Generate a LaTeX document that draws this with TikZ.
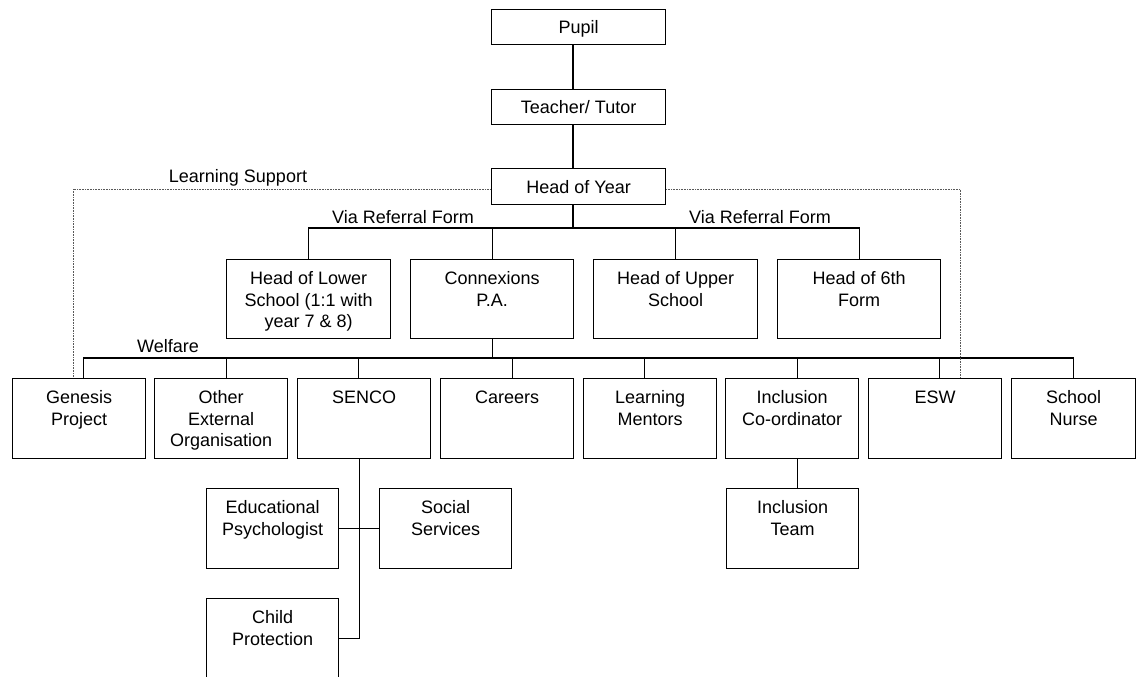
\documentclass[tikz,border=0pt]{standalone}
\usepackage{fontspec}
\setmainfont{Liberation Sans}
% box text: width, height, first-baseline offset, content (top aligned, centred)
\newcommand\celltext[4]{\parbox[t][#2pt][t]{#1pt}{\centering\rule{0pt}{#3pt}#4\par}}
\begin{document}
\begin{tikzpicture}[x=1pt,y=-1pt,
  every node/.style={font=\fontsize{18}{21.6}\selectfont},
  cell/.style={draw, line width=1.2pt, inner sep=0pt, anchor=north west},
  link/.style={line width=1.2pt},
  dotline/.style={line width=0.8pt, gray!70!black, dash pattern=on 0.8pt off 0.8pt},
  lbl/.style={anchor=base, inner sep=0pt}]
\useasboundingbox (0,0) rectangle (1136,677);
\clip (0,0) rectangle (1136,677);

% top chain
\node[cell] (pupil)   at (491,9)   {\celltext{174}{35}{24}{Pupil}};
\node[cell] (teacher) at (491,89)  {\celltext{174}{35}{24}{Teacher/ Tutor}};
\node[cell] (hoy)     at (491,168) {\celltext{174}{36}{25}{Head of Year}};

% second row
\node[cell] (hls) at (226,259) {\celltext{164}{79}{25}{Head of Lower\\School (1:1 with\\year 7 \& 8)}};
\node[cell] (cx)  at (410,259) {\celltext{163}{79}{25}{Connexions\\P.A.}};
\node[cell] (hus) at (593,259) {\celltext{164}{79}{25}{Head of Upper\\School}};
\node[cell] (h6)  at (777,259) {\celltext{163}{79}{25}{Head of 6th\\Form}};

% third row
\node[cell] (gen)   at (12,378)   {\celltext{133}{80}{25}{Genesis\\Project}};
\node[cell] (oth)   at (154,378)  {\celltext{133}{80}{25}{Other\\External\\Organisation}};
\node[cell] (senco) at (297,378)  {\celltext{133}{80}{25}{SENCO}};
\node[cell] (car)   at (440,378)  {\celltext{133}{80}{25}{Careers}};
\node[cell] (lm)    at (583,378)  {\celltext{133}{80}{25}{Learning\\Mentors}};
\node[cell] (inc)   at (725,378)  {\celltext{133}{80}{25}{Inclusion\\Co-ordinator}};
\node[cell] (esw)   at (868,378)  {\celltext{133}{80}{25}{ESW}};
\node[cell] (nurse) at (1011,378) {\celltext{124}{80}{25}{School\\Nurse}};

% lower boxes
\node[cell] (ep) at (206,488) {\celltext{132}{80}{25}{Educational\\Psychologist}};
\node[cell] (ss) at (379,488) {\celltext{132}{80}{25}{Social\\Services}};
\node[cell] (cp) at (206,598) {\celltext{132}{80}{25}{Child\\Protection}};
\node[cell] (it) at (726,488) {\celltext{132}{80}{25}{Inclusion\\Team}};

% labels
\node[lbl] (lsup) at (238,182) {Learning Support};
\node[lbl] (via1) at (403,223) {Via Referral Form};
\node[lbl] (via2) at (760,223) {Via Referral Form};
\node[lbl] (welf) at (168,352) {Welfare};

% connectors
\coordinate (bustop) at (573,228);
\coordinate (wbus) at (491,358);
\draw[link] (bustop |- pupil.south) -- (bustop |- teacher.north);
\draw[link] (bustop |- teacher.south) -- (bustop |- hoy.north);
\draw[link] (bustop |- hoy.south) -- (bustop);
\draw[link] (hls.north) |- (bustop) -| (h6.north);
\draw[link] (cx.north) -- (cx.north |- bustop);
\draw[link] (hus.north) -- (hus.north |- bustop);

\draw[link] (cx.south) -- (cx.south |- wbus);
\draw[link] ([xshift=4.5pt]gen.north) |- (wbus) -| (nurse.north);
\foreach \n/\s in {oth/5.5, senco/-5.5, car/5.5, lm/-5.5, inc/5.5, esw/4.5}
  \draw[link] ([xshift=\s pt]\n.north) -- ([xshift=\s pt]\n.north |- wbus);

\draw[link] ([xshift=-4.5pt]senco.south) -- ([xshift=-4.5pt]senco.south |- cp.east) -- (cp.east);
\draw[link] (ep.east) -- (ss.west);
\draw[link] ([xshift=5.5pt]inc.south) -- ([xshift=5.5pt]inc.south |- it.north);

% learning support boundary
\coordinate (lsa) at (73,377);
\coordinate (lsb) at (73,189);
\coordinate (lsc) at (960,189);
\coordinate (lsd) at (960,377);
\draw[dotline] (lsa) -- (lsb) -- (hoy.west |- lsb);
\draw[dotline] (hoy.east |- lsc) -- (lsc) -- (lsd);
\end{tikzpicture}
\end{document}
